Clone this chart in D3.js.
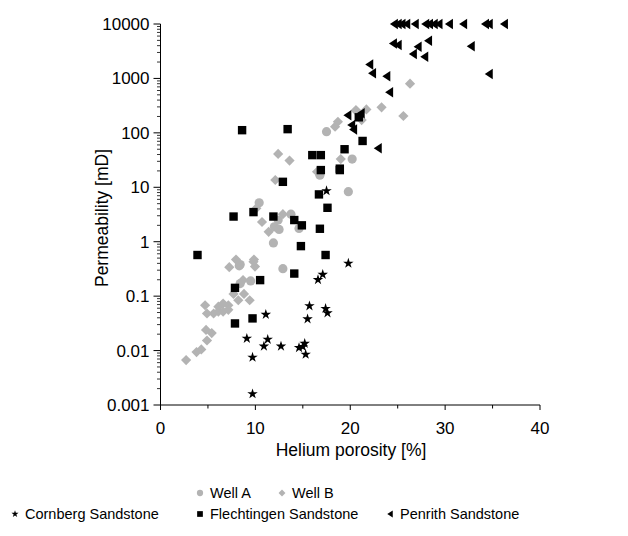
<!DOCTYPE html>
<html>
<head>
<meta charset="utf-8">
<style>
  body { margin: 0; background: #fff; }
  svg text { font-family: "Liberation Sans", Arial, sans-serif; fill: #000; }
</style>
</head>
<body>
<svg id="chart" width="628" height="536"></svg>
<script src="https://cdnjs.cloudflare.com/ajax/libs/d3/7.8.5/d3.min.js"></script>
<script>
// values: helium porosity [%] and permeability [mD]
var wellAPor  = [20.2, 16.8, 19.8, 10.4, 13.75, 12.0, 12.5, 14.6, 12.4, 11.9, 8.3, 8.4, 12.9, 9.5, 8.4, 17.5];
var wellAPerm = [33, 16.7, 8.3, 5.2, 3.2, 1.88, 1.68, 1.75, 2.5, 0.95, 0.36, 0.38, 0.32, 0.19, 0.17, 105];

var wellBPor  = [26.3, 23.3, 25.6, 21.7, 20.6, 21.2, 20.7, 18.7, 18.4, 19.0, 12.4, 13.6, 16.5, 12.1, 10.1, 12.9, 10.7, 11.4,
                 7.96, 9.85, 7.25, 9.96, 9.8, 8.7, 8.8, 7.7, 9.4, 8.2, 7.15, 6.6, 6.1, 4.7, 5.6, 6.1, 4.9, 6.6, 7.15,
                 5.4, 4.8, 4.9, 4.3, 3.8, 2.7];
var wellBPerm = [800, 294, 204, 270, 262, 172, 244, 160, 130, 33, 41, 31, 19.3, 13.6, 4.1, 3.2, 2.3, 1.52,
                 0.47, 0.47, 0.34, 0.35, 0.43, 0.197, 0.11, 0.11, 0.084, 0.084, 0.068, 0.073, 0.064, 0.068, 0.048, 0.052, 0.048, 0.052, 0.056,
                 0.021, 0.024, 0.0153, 0.0105, 0.0094, 0.0067];

var cornPor  = [17.5, 19.8, 17.1, 16.6, 15.7, 17.4, 17.6, 15.5, 11.1, 9.1, 11.3, 10.9, 12.7, 14.6, 15.0, 15.2, 15.3, 9.7, 9.7];
var cornPerm = [8.6, 0.40, 0.25, 0.20, 0.066, 0.059, 0.049, 0.038, 0.046, 0.0167, 0.016, 0.012, 0.012, 0.0113, 0.0118, 0.0135, 0.0085, 0.0075, 0.0016];

var flechPor  = [8.6, 13.4, 20.9, 21.3, 19.4, 18.9, 16.0, 16.9, 16.9, 18.9, 16.7, 17.6, 12.9, 9.8, 7.7, 11.9, 14.1, 14.9,
                 16.8, 14.8, 17.4, 3.9, 14.1, 10.5, 7.85, 7.85, 9.7];
var flechPerm = [112, 117, 193, 71, 50, 22, 39, 39, 20.7, 20.7, 7.4, 4.2, 12.6, 3.5, 2.9, 2.9, 2.5, 2.0,
                 1.73, 0.83, 0.57, 0.57, 0.26, 0.197, 0.142, 0.0315, 0.039];

var penPor  = [24.6, 25.0, 25.4, 25.9, 26.8, 27.9, 28.3, 28.8, 29.3, 30.4, 31.9, 34.2, 34.6, 36.2,
               22.0, 22.3, 23.8, 24.1, 24.5, 25.0, 26.6, 27.1, 27.8, 28.2, 32.7, 34.6, 19.7, 21.1, 20.1, 20.3, 22.9];
var penPerm = [10000, 10000, 10000, 10000, 10000, 10000, 10000, 10000, 10000, 10000, 10000, 10000, 10000, 10000,
               1800, 1250, 1100, 560, 4400, 4100, 2800, 3800, 2500, 4900, 3900, 1200, 210, 230, 140, 115, 52];

var xTicks = [0, 10, 20, 30, 40];
var xMinor = [5, 15, 25, 35];
var yTicks = [0.001, 0.01, 0.1, 1, 10, 100, 1000, 10000];
var yTickLabels = ["0.001", "0.01", "0.1", "1", "10", "100", "1000", "10000"];

var gray = "#b3b3b3";

var svg = d3.select("#chart");
var x = d3.scaleLinear().domain([0, 40]).range([160.5, 540]);
var y = d3.scaleLog().domain([0.001, 10000]).range([405, 24]);

// marker shapes
var star = d3.symbol().type(d3.symbolStar);
function triLeft(w, h) {
    return "M" + (-w / 2) + ",0L" + (w / 2) + "," + (-h / 2) + "L" + (w / 2) + "," + (h / 2) + "Z";
}
var shapes = {
    circle: function(g, s) { return g.append("circle").attr("r", 4.6 * s); },
    diamond: function(g, s) { return g.append("path").attr("d", d3.symbol().type(d3.symbolSquare).size(52 * s * s)()).attr("transform", "rotate(45)"); },
    star: function(g, s) { return g.append("path").attr("d", star.size(34 * s * s)()); },
    square: function(g, s) { return g.append("rect").attr("x", -4.2 * s).attr("y", -4.2 * s).attr("width", 8.4 * s).attr("height", 8.4 * s); },
    tri: function(g, s) { return g.append("path").attr("d", triLeft(8 * s, 10.5 * s)); }
};

var series = [
    { name: "Well A", por: wellAPor, perm: wellAPerm, shape: "circle", color: gray },
    { name: "Well B", por: wellBPor, perm: wellBPerm, shape: "diamond", color: gray },
    { name: "Flechtingen Sandstone", por: flechPor, perm: flechPerm, shape: "square", color: "#000" },
    { name: "Cornberg Sandstone", por: cornPor, perm: cornPerm, shape: "star", color: "#000" },
    { name: "Penrith Sandstone", por: penPor, perm: penPerm, shape: "tri", color: "#000" }
];

// axes
var yAxis = svg.append("g").attr("transform", "translate(160.5,0)");
yAxis.append("line").attr("y1", y(0.001)).attr("y2", y(10000)).attr("stroke", "#000");
var minorY = [];
yTicks.slice(0, -1).forEach(function(t) { for (var k = 2; k < 10; k++) minorY.push(t * k); });
yAxis.selectAll(".ym").data(minorY).enter().append("line")
    .attr("x1", -3.5).attr("x2", 0).attr("y1", function(d) { return y(d); }).attr("y2", function(d) { return y(d); })
    .attr("stroke", "#000").attr("stroke-width", 0.8);
yAxis.selectAll(".yM").data(yTicks).enter().append("line")
    .attr("x1", -7).attr("x2", 0).attr("y1", function(d) { return y(d); }).attr("y2", function(d) { return y(d); })
    .attr("stroke", "#000");
yAxis.selectAll(".yl").data(yTicks).enter().append("text")
    .attr("x", -11).attr("y", function(d) { return y(d); }).attr("dy", "0.35em")
    .attr("text-anchor", "end").style("font-size", "17px")
    .text(function(d, i) { return yTickLabels[i]; });

var xAxis = svg.append("g").attr("transform", "translate(0,405)");
xAxis.append("line").attr("x1", x(0)).attr("x2", x(40)).attr("stroke", "#000");
xAxis.selectAll(".xM").data(xTicks).enter().append("line")
    .attr("x1", function(d) { return x(d); }).attr("x2", function(d) { return x(d); }).attr("y1", 0).attr("y2", 5)
    .attr("stroke", "#000");
xAxis.selectAll(".xm").data(xMinor).enter().append("line")
    .attr("x1", function(d) { return x(d); }).attr("x2", function(d) { return x(d); }).attr("y1", 0).attr("y2", 3.5)
    .attr("stroke", "#000");
xAxis.selectAll(".xl").data(xTicks).enter().append("text")
    .attr("x", function(d) { return x(d); }).attr("y", 29)
    .attr("text-anchor", "middle").style("font-size", "17px")
    .text(function(d) { return d; });

svg.append("text").attr("x", 351).attr("y", 456).attr("text-anchor", "middle")
    .style("font-size", "17.5px").text("Helium porosity [%]");
svg.append("text").attr("transform", "translate(108,218) rotate(-90)").attr("text-anchor", "middle")
    .style("font-size", "17.5px").text("Permeability [mD]");

// points
series.forEach(function(s) {
    var pts = s.por.map(function(p, i) { return [p, s.perm[i]]; });
    var g = svg.append("g");
    pts.forEach(function(d) {
        var m = g.append("g").attr("transform", "translate(" + x(d[0]) + "," + y(d[1]) + ")");
        shapes[s.shape](m, 1).attr("fill", s.color);
    });
});

// legend
var legend = [
    { s: series[0], lx: 200, ly: 493 },
    { s: series[1], lx: 282, ly: 493 },
    { s: series[3], lx: 15, ly: 514 },
    { s: series[2], lx: 200, ly: 514 },
    { s: series[4], lx: 390, ly: 514 }
];
legend.forEach(function(l) {
    var m = svg.append("g").attr("transform", "translate(" + l.lx + "," + l.ly + ")");
    shapes[l.s.shape](m, 0.68).attr("fill", l.s.color);
    svg.append("text").attr("x", l.lx + 10).attr("y", l.ly).attr("dy", "0.35em")
        .style("font-size", "14.5px").text(l.s.name);
});
</script>
</body>
</html>
